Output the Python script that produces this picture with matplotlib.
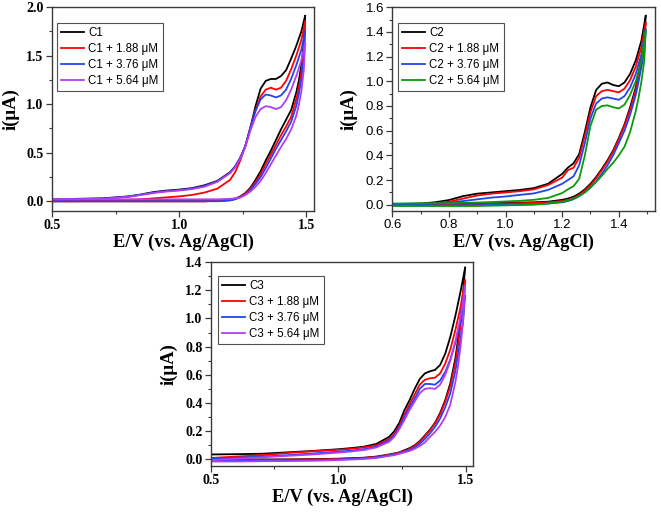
import matplotlib
matplotlib.use("Agg")
import matplotlib.pyplot as plt
from matplotlib.ticker import MultipleLocator

# ---------------- Panel 1 (C1) ----------------
p1_labels = ["C1", "C1 + 1.88 \u03bcM", "C1 + 3.76 \u03bcM", "C1 + 5.64 \u03bcM"]
p1_xticks = [0.5, 1.0, 1.5]
p1_yticks = [0.0, 0.5, 1.0, 1.5, 2.0]
p1_E_fwd = [0.5, 0.6, 0.7, 0.8, 0.85, 0.9, 0.95, 1.0, 1.05, 1.1, 1.15, 1.2, 1.22, 1.24,
            1.26, 1.28, 1.30, 1.32, 1.34, 1.36, 1.38, 1.40, 1.42, 1.44, 1.46, 1.48, 1.495]
p1_i_fwd = [
    [0.02, 0.025, 0.03, 0.05, 0.07, 0.095, 0.11, 0.12, 0.135, 0.165, 0.21, 0.30, 0.36, 0.45,
     0.57, 0.76, 0.98, 1.16, 1.24, 1.26, 1.26, 1.29, 1.35, 1.47, 1.60, 1.75, 1.91],
    [0.0, 0.0, 0.005, 0.015, 0.02, 0.03, 0.04, 0.05, 0.065, 0.09, 0.13, 0.22, 0.30, 0.42,
     0.57, 0.76, 0.94, 1.08, 1.15, 1.17, 1.15, 1.17, 1.24, 1.36, 1.50, 1.66, 1.85],
    [0.018, 0.022, 0.027, 0.047, 0.067, 0.09, 0.105, 0.115, 0.13, 0.158, 0.205, 0.295, 0.355, 0.445,
     0.57, 0.76, 0.93, 1.05, 1.10, 1.09, 1.07, 1.09, 1.15, 1.26, 1.40, 1.56, 1.75],
    [0.02, 0.02, 0.025, 0.045, 0.065, 0.085, 0.10, 0.11, 0.125, 0.15, 0.20, 0.29, 0.35, 0.44,
     0.56, 0.73, 0.87, 0.95, 0.98, 0.97, 0.95, 0.97, 1.04, 1.15, 1.29, 1.45, 1.63],
]
p1_E_rev = [1.495, 1.49, 1.48, 1.47, 1.46, 1.44, 1.42, 1.40, 1.38, 1.36, 1.34, 1.32, 1.30, 1.28,
            1.26, 1.24, 1.22, 1.20, 1.15, 1.1, 1.0, 0.9, 0.8, 0.7, 0.6, 0.5]
p1_i_rev = [
    [1.91, 1.64, 1.40, 1.24, 1.12, 0.94, 0.84, 0.74, 0.63, 0.52, 0.42, 0.31, 0.22, 0.14,
     0.085, 0.05, 0.025, 0.012, 0.005, 0.0, 0.0, 0.0, 0.0, 0.0, 0.0, 0.0],
    [1.85, 1.57, 1.33, 1.17, 1.05, 0.87, 0.77, 0.68, 0.58, 0.48, 0.38, 0.28, 0.20, 0.13,
     0.08, 0.045, 0.025, 0.012, 0.005, 0.0, 0.0, 0.0, 0.0, 0.0, 0.0, 0.0],
    [1.75, 1.47, 1.25, 1.10, 0.98, 0.82, 0.72, 0.63, 0.54, 0.44, 0.34, 0.25, 0.18, 0.115,
     0.07, 0.04, 0.02, 0.008, 0.0, 0.0, 0.0, 0.0, 0.0, 0.0, 0.0, 0.0],
    [1.63, 1.36, 1.13, 0.99, 0.88, 0.74, 0.64, 0.56, 0.47, 0.38, 0.29, 0.21, 0.15, 0.10,
     0.065, 0.04, 0.03, 0.025, 0.02, 0.02, 0.02, 0.02, 0.02, 0.02, 0.02, 0.02],
]

# ---------------- Panel 2 (C2) ----------------
p2_labels = ["C2", "C2 + 1.88 \u03bcM", "C2 + 3.76 \u03bcM", "C2 + 5.64 \u03bcM"]
p2_xticks = [0.6, 0.8, 1.0, 1.2, 1.4]
p2_yticks = [0.0, 0.2, 0.4, 0.6, 0.8, 1.0, 1.2, 1.4, 1.6]
p2_E_fwd = [0.6, 0.7, 0.75, 0.8, 0.85, 0.9, 0.95, 1.0, 1.05, 1.1, 1.15, 1.2, 1.22, 1.24,
            1.26, 1.28, 1.30, 1.32, 1.34, 1.36, 1.38, 1.40, 1.42, 1.44, 1.46, 1.48, 1.495]
p2_i_fwd = [
    [0.005, 0.01, 0.02, 0.038, 0.07, 0.09, 0.10, 0.11, 0.12, 0.135, 0.17, 0.25, 0.30, 0.335,
     0.41, 0.59, 0.79, 0.93, 0.98, 0.99, 0.97, 0.96, 0.99, 1.06, 1.17, 1.33, 1.53],
    [0.005, 0.008, 0.012, 0.025, 0.05, 0.075, 0.09, 0.10, 0.11, 0.125, 0.16, 0.22, 0.28, 0.30,
     0.38, 0.56, 0.75, 0.88, 0.92, 0.93, 0.92, 0.91, 0.94, 1.01, 1.12, 1.28, 1.47],
    [0.0, 0.005, 0.01, 0.018, 0.03, 0.044, 0.058, 0.067, 0.08, 0.092, 0.12, 0.17, 0.20, 0.23,
     0.32, 0.50, 0.70, 0.82, 0.86, 0.87, 0.86, 0.85, 0.88, 0.95, 1.06, 1.22, 1.42],
    [0.01, 0.012, 0.012, 0.013, 0.015, 0.018, 0.022, 0.027, 0.032, 0.04, 0.055, 0.095, 0.125, 0.15,
     0.21, 0.40, 0.64, 0.77, 0.80, 0.805, 0.79, 0.78, 0.81, 0.89, 1.00, 1.17, 1.41],
]
p2_E_rev = [1.495, 1.49, 1.48, 1.47, 1.46, 1.44, 1.42, 1.40, 1.38, 1.36, 1.34, 1.32, 1.30, 1.28,
            1.26, 1.24, 1.22, 1.20, 1.15, 1.1, 1.0, 0.9, 0.8, 0.7, 0.6]
p2_i_rev = [
    [1.53, 1.33, 1.20, 1.06, 0.95, 0.79, 0.65, 0.54, 0.44, 0.36, 0.29, 0.225, 0.17, 0.125,
     0.09, 0.065, 0.05, 0.04, 0.025, 0.02, 0.015, 0.01, 0.01, 0.005, 0.005],
    [1.47, 1.29, 1.17, 1.04, 0.93, 0.77, 0.64, 0.53, 0.43, 0.35, 0.28, 0.215, 0.16, 0.115,
     0.08, 0.055, 0.04, 0.03, 0.02, 0.015, 0.01, 0.005, 0.0, 0.0, 0.0],
    [1.42, 1.24, 1.12, 1.00, 0.89, 0.73, 0.60, 0.50, 0.40, 0.32, 0.25, 0.19, 0.14, 0.10,
     0.07, 0.045, 0.03, 0.02, 0.01, 0.005, 0.0, -0.003, -0.005, -0.005, -0.005],
    [1.41, 1.17, 1.00, 0.87, 0.76, 0.59, 0.47, 0.40, 0.34, 0.29, 0.235, 0.185, 0.14, 0.10,
     0.07, 0.05, 0.035, 0.025, 0.01, 0.0, -0.005, -0.01, -0.01, -0.01, -0.01],
]

# ---------------- Panel 3 (C3) ----------------
p3_labels = ["C3", "C3 + 1.88 \u03bcM", "C3 + 3.76 \u03bcM", "C3 + 5.64 \u03bcM"]
p3_xticks = [0.5, 1.0, 1.5]
p3_yticks = [0.0, 0.2, 0.4, 0.6, 0.8, 1.0, 1.2, 1.4]
p3_E_fwd = [0.5, 0.6, 0.7, 0.8, 0.9, 1.0, 1.05, 1.1, 1.15, 1.2, 1.22, 1.24, 1.26, 1.28,
            1.30, 1.32, 1.34, 1.36, 1.38, 1.40, 1.42, 1.44, 1.46, 1.48, 1.498]
p3_i_fwd = [
    [0.035, 0.037, 0.04, 0.05, 0.06, 0.072, 0.08, 0.09, 0.11, 0.16, 0.20, 0.26, 0.35, 0.42,
     0.50, 0.57, 0.61, 0.625, 0.635, 0.67, 0.75, 0.87, 1.02, 1.19, 1.36],
    [0.01, 0.02, 0.03, 0.045, 0.058, 0.068, 0.075, 0.085, 0.10, 0.145, 0.18, 0.24, 0.32, 0.39,
     0.46, 0.53, 0.565, 0.575, 0.58, 0.61, 0.68, 0.78, 0.92, 1.08, 1.27],
    [0.005, 0.012, 0.02, 0.03, 0.042, 0.055, 0.062, 0.072, 0.09, 0.135, 0.17, 0.225, 0.30, 0.37,
     0.43, 0.50, 0.535, 0.535, 0.53, 0.56, 0.62, 0.71, 0.83, 0.98, 1.16],
    [-0.005, 0.005, 0.015, 0.025, 0.035, 0.048, 0.056, 0.066, 0.085, 0.125, 0.16, 0.215, 0.28, 0.35,
     0.41, 0.47, 0.50, 0.505, 0.50, 0.53, 0.60, 0.70, 0.84, 1.01, 1.23],
]
p3_E_rev = [1.498, 1.49, 1.48, 1.47, 1.46, 1.44, 1.42, 1.40, 1.38, 1.36, 1.34, 1.32, 1.30, 1.28,
            1.26, 1.24, 1.22, 1.2, 1.15, 1.1, 1.0, 0.9, 0.8, 0.7, 0.6, 0.5]
p3_i_rev = [
    [1.36, 1.18, 1.01, 0.85, 0.72, 0.54, 0.42, 0.33, 0.26, 0.21, 0.17, 0.13, 0.10, 0.08,
     0.065, 0.05, 0.042, 0.035, 0.02, 0.012, 0.005, 0.002, 0.0, 0.0, 0.0, 0.0],
    [1.27, 1.10, 0.95, 0.81, 0.69, 0.52, 0.41, 0.32, 0.255, 0.205, 0.165, 0.125, 0.095, 0.075,
     0.06, 0.048, 0.04, 0.032, 0.018, 0.01, 0.003, 0.0, -0.002, -0.003, -0.003, -0.003],
    [1.16, 0.98, 0.86, 0.74, 0.63, 0.47, 0.37, 0.29, 0.23, 0.185, 0.145, 0.11, 0.085, 0.068,
     0.055, 0.045, 0.035, 0.028, 0.015, 0.006, 0.0, -0.005, -0.007, -0.008, -0.008, -0.008],
    [1.23, 0.98, 0.80, 0.66, 0.55, 0.39, 0.30, 0.24, 0.195, 0.16, 0.12, 0.095, 0.075, 0.06,
     0.05, 0.04, 0.03, 0.025, 0.01, 0.003, -0.005, -0.01, -0.012, -0.013, -0.015, -0.015],
]

colors_a = ["#000000", "#FF0000", "#2244F0", "#B43CF5"]
colors_b = ["#000000", "#FF0000", "#2244F0", "#0A9A0A"]

fig = plt.figure(figsize=(6.61, 5.12), dpi=100)

serif = ["Liberation Serif", "DejaVu Serif"]
sans = ["Liberation Sans", "DejaVu Sans"]
spine_col = "#3a3a3a"


def make_panel(rect, E_f, I_f, E_r, I_r, labels, colors, xlim, ylim, xticks, yticks,
               xmin, ymin, tickfont, ylab_x, leg_anchor):
    ax = fig.add_axes(rect)
    lines = []
    for k in range(4):
        l, = ax.plot(E_f, I_f[k], color=colors[k], lw=1.3, label=labels[k])
        ax.plot(E_r, I_r[k], color=colors[k], lw=1.3)
        lines.append(l)
    if tickfont == "serif":
        tkw = dict(family=serif, fontweight="bold", fontsize=10)
    else:
        tkw = dict(family=sans, fontsize=9.5)
    ax.set_xticks(xticks, ["%.1f" % v for v in xticks], **tkw)
    ax.set_yticks(yticks, ["%.1f" % v for v in yticks], **tkw)
    ax.xaxis.set_minor_locator(MultipleLocator(xmin))
    ax.yaxis.set_minor_locator(MultipleLocator(ymin))
    ax.set_xlim(*xlim)
    ax.set_ylim(*ylim)
    ax.tick_params(which="major", direction="out", length=4, width=0.9, color=spine_col,
                   top=False, right=False, pad=2)
    ax.tick_params(which="minor", direction="out", length=2, width=0.8, color=spine_col,
                   top=False, right=False)
    for s in ax.spines.values():
        s.set_color(spine_col)
        s.set_linewidth(1.0)
    ax.set_xlabel("E/V (vs. Ag/AgCl)", family=serif, fontweight="bold", fontsize=13.3)
    ax.set_ylabel("i(\u03bcA)", family=serif, fontweight="bold", fontsize=13.5)
    ax.xaxis.set_label_coords(0.5, -0.113)
    ax.yaxis.set_label_coords(ylab_x, 0.5)
    leg = ax.legend(handles=lines, loc="upper left", bbox_to_anchor=leg_anchor,
                    borderaxespad=0, fancybox=False, framealpha=1, edgecolor="#505050",
                    prop={"family": sans, "size": 8.3}, handlelength=2.0,
                    handletextpad=0.35, labelspacing=0.35, borderpad=0.35)
    leg.get_frame().set_linewidth(0.8)
    return ax


make_panel([0.0787, 0.588, 0.3964, 0.398], p1_E_fwd, p1_i_fwd, p1_E_rev, p1_i_rev,
           p1_labels, colors_a, (0.5, 1.53), (-0.1, 2.0), p1_xticks, p1_yticks,
           0.25, 0.25, "serif", -0.122, (0.02, 0.922))
make_panel([0.5935, 0.588, 0.3975, 0.398], p2_E_fwd, p2_i_fwd, p2_E_rev, p2_i_rev,
           p2_labels, colors_b, (0.6, 1.528), (-0.05, 1.6), p2_xticks, p2_yticks,
           0.1, 0.1, "sans", -0.134, (0.023, 0.922))
make_panel([0.3188, 0.0898, 0.3972, 0.3984], p3_E_fwd, p3_i_fwd, p3_E_rev, p3_i_rev,
           p3_labels, colors_a, (0.5, 1.53), (-0.047, 1.4), p3_xticks, p3_yticks,
           0.25, 0.1, "serif", -0.125, (0.029, 0.933))

fig.savefig("out.png", dpi=100)
